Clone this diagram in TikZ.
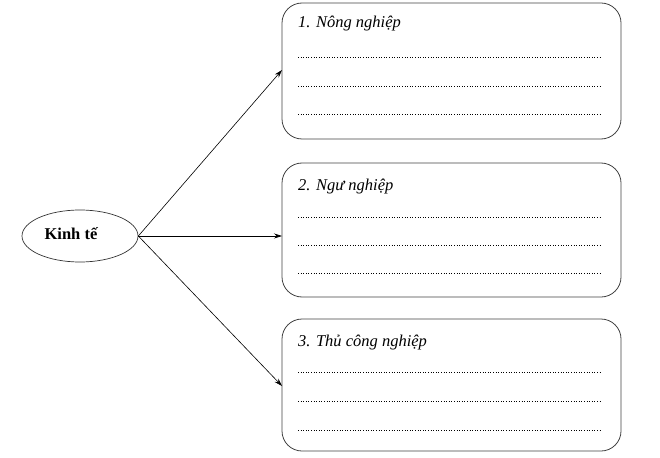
\documentclass[tikz,border=0pt]{standalone}
\usepackage{fontspec}
\setmainfont{Liberation Serif}
\usetikzlibrary{arrows.meta,shapes.geometric}
\begin{document}
\begin{tikzpicture}[x=1pt,y=-1pt,
  box/.style={draw=black!75,line width=0.8pt,rounded corners=20pt},
  title/.style={anchor=base west,inner sep=0pt,font=\fontsize{16.5}{19}\selectfont\itshape},
  fill line/.style={line width=0.6pt,dash pattern=on 1pt off 1.6pt},
  arr/.style={-{Stealth[length=8pt,width=5pt]},line width=0.6pt}]
\useasboundingbox (0,0) rectangle (660,457);
\node[draw=black!80,line width=0.7pt,ellipse,minimum width=116pt,minimum height=52pt,inner sep=0pt] (k) at (80,236) {};
\node[anchor=base,inner sep=0pt,font=\fontsize{16.5}{19}\selectfont\bfseries] (kt) at (71,239) {Kinh tế};
\draw[box] (282,3) rectangle (621,139);
\draw[box] (282,163) rectangle (621,297);
\draw[box] (282,319) rectangle (621,451);
\coordinate (b1) at (282,70);
\coordinate (b2) at (282,236);
\coordinate (b3) at (282,386);
\node[title] (t1) at (298,28) {1. Nông nghiệp};
\node[title] (t2) at (298,190) {2. Ngư nghiệp};
\node[title] (t3) at (298,346) {3. Thủ công nghiệp};
\foreach \y in {57,86,114,217,245,273,372,401,430}
  \draw[fill line] (298,\y) -- (602,\y);
\draw[arr] (k.east) -- (b1);
\draw[arr] (k.east) -- (b2);
\draw[arr] (k.east) -- (b3);
\end{tikzpicture}
\end{document}
